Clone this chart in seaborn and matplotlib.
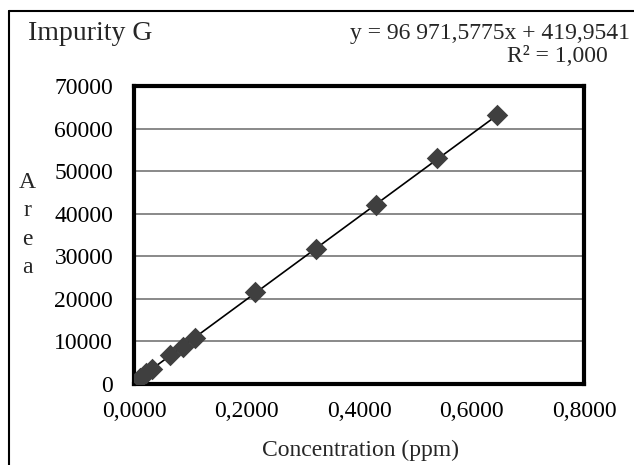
import numpy as np
import pandas as pd
import matplotlib
matplotlib.use("Agg")
import matplotlib.pyplot as plt
from matplotlib.ticker import FuncFormatter, MultipleLocator
from matplotlib.lines import Line2D
import seaborn as sns

# Calibration data
conc_ppm = [0.0108, 0.0215, 0.0323, 0.0646, 0.0862, 0.1077, 0.2154, 0.3231, 0.4308, 0.5385, 0.6462]
area = [1450, 2500, 3600, 6700, 8800, 10900, 21500, 31700, 42100, 53000, 63100]

title = "Impurity G"
equation = "y = 96 971,5775x + 419,9541"
r2_text = "R² = 1,000"
x_label = "Concentration (ppm)"
y_label = "A\nr\ne\na"

df = pd.DataFrame({"conc": conc_ppm, "area": area})

sns.set_style("white")
plt.rcParams["font.family"] = ["Liberation Serif", "DejaVu Serif"]

fig = plt.figure(figsize=(6.34, 4.65), dpi=100)
ax = fig.add_axes([0.2114, 0.1742, 0.7097, 0.6408])

# fit line over the data range
sns.regplot(data=df, x="conc", y="area", ax=ax, scatter=False, ci=None,
            truncate=True, line_kws={"color": "black", "lw": 1.2, "zorder": 3})
sns.scatterplot(data=df, x="conc", y="area", ax=ax, marker="D", s=120,
                color="#3f3f3f", edgecolor="#3f3f3f", linewidth=0, zorder=4)

ax.set_xlim(0, 0.8)
ax.set_ylim(0, 70000)
ax.xaxis.set_major_locator(MultipleLocator(0.2))
ax.yaxis.set_major_locator(MultipleLocator(10000))
ax.xaxis.set_major_formatter(FuncFormatter(lambda v, p: f"{v:.4f}".replace(".", ",")))
ax.yaxis.set_major_formatter(FuncFormatter(lambda v, p: f"{int(round(v))}"))
ax.tick_params(axis="both", length=0, labelsize=17, colors="black")
ax.tick_params(axis="y", pad=15)
ax.tick_params(axis="x", pad=12)
ax.grid(axis="y", color="#808080", lw=1.3)
ax.set_axisbelow(True)
ax.set_xlabel("")
ax.set_ylabel("")
for sp in ax.spines.values():
    sp.set_visible(True)
    sp.set_color("black")
    sp.set_linewidth(3)

# labels and annotations
fig.text(360 / 634, 1 - 450 / 465, x_label, ha="center", va="center", fontsize=17)
fig.text(27 / 634, 1 - 225 / 465, y_label, ha="center", va="center", fontsize=17,
         linespacing=1.45)
fig.text(28 / 634, 1 - 33 / 465, title, ha="left", va="center", fontsize=20)
fig.text(630 / 634, 1 - 33 / 465, equation, ha="right", va="center", fontsize=17)
fig.text(608 / 634, 1 - 57 / 465, r2_text, ha="right", va="center", fontsize=17)

# outer chart frame (left and top edges visible)
fig.add_artist(Line2D([9 / 634, 9 / 634], [0, 1 - 11 / 465], color="black", lw=1.5,
                      transform=fig.transFigure))
fig.add_artist(Line2D([9 / 634, 1], [1 - 11 / 465, 1 - 11 / 465], color="black", lw=1.5,
                      transform=fig.transFigure))

fig.savefig("out.png", dpi=100)
